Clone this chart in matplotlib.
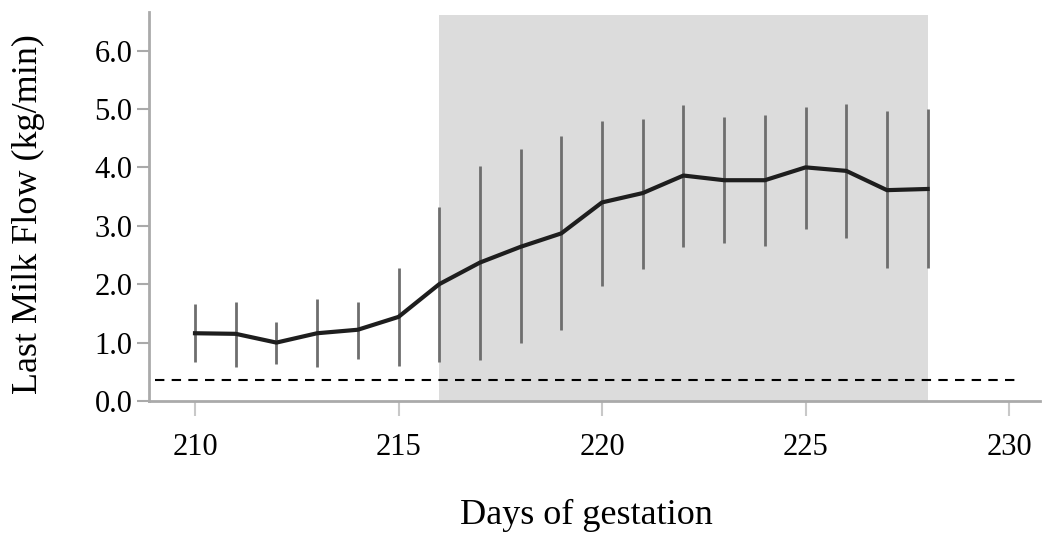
import matplotlib
matplotlib.use("Agg")
import matplotlib.pyplot as plt

days = [210, 211, 212, 213, 214, 215, 216, 217, 218, 219, 220, 221, 222, 223, 224, 225, 226, 227, 228]
mean_flow = [1.16, 1.15, 1.00, 1.16, 1.22, 1.44, 2.00, 2.37, 2.64, 2.87, 3.40, 3.56, 3.86, 3.78, 3.78, 4.00, 3.94, 3.61, 3.63]
upper = [1.66, 1.70, 1.35, 1.75, 1.70, 2.27, 3.32, 4.03, 4.32, 4.53, 4.80, 4.83, 5.07, 4.86, 4.90, 5.04, 5.09, 4.97, 5.00]
lower = [0.66, 0.59, 0.63, 0.58, 0.72, 0.60, 0.67, 0.70, 1.00, 1.22, 1.97, 2.26, 2.64, 2.71, 2.66, 2.94, 2.79, 2.27, 2.27]
shade_range = (216, 228)
threshold = 0.36
x_ticks = [210, 215, 220, 225, 230]
y_ticks = [0.0, 1.0, 2.0, 3.0, 4.0, 5.0, 6.0]

plt.rcParams['font.family'] = ['Liberation Serif', 'DejaVu Serif']

fig = plt.figure(figsize=(10.45, 5.34), dpi=100)
ax = fig.add_axes([149/1045, 1 - 401/534, (1040-149)/1045, (401-12)/534])

ax.axvspan(shade_range[0], shade_range[1], ymin=-0.005, ymax=(6.61/6.66), color='#dcdcdc', zorder=0, lw=0)
ax.vlines(days, lower, upper, colors='#6e6e6e', lw=2.0, zorder=2)
ax.plot(days, mean_flow, color='#1e1e1e', lw=3.0, zorder=3, solid_joinstyle='round')
ax.plot([209.02, 230.2], [threshold, threshold], color='black', lw=1.5, ls=(0, (4.5, 3.5)), zorder=4)

ax.set_xlim(208.87, 230.76)
ax.set_ylim(0, 6.66)
ax.set_xticks(x_ticks)
ax.set_xticklabels([str(t) for t in x_ticks])
ax.set_yticks(y_ticks)
ax.set_yticklabels([f"{t:.1f}" for t in y_ticks])

for s in ['top', 'right']:
    ax.spines[s].set_visible(False)
for s in ['left', 'bottom']:
    ax.spines[s].set_color('#aaaaaa')
    ax.spines[s].set_linewidth(2.0)

ax.tick_params(axis='x', length=11, width=1.5, color='#c8c8c8', labelsize=22, pad=12)
ax.tick_params(axis='y', length=9, width=1.5, color='#aaaaaa', labelsize=22, pad=3)

fig.text(586/1045, 1 - 515/534, 'Days of gestation', ha='center', va='center', fontsize=26)
fig.text(28/1045, 1 - 214/534, 'Last Milk Flow (kg/min)', ha='center', va='center', rotation=90, fontsize=26)

fig.savefig('out.png', dpi=100)
